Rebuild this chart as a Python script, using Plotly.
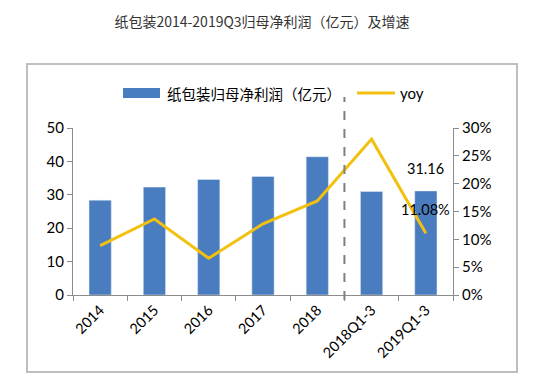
import plotly.graph_objects as go

categories = ["2014", "2015", "2016", "2017", "2018", "2018Q1-3", "2019Q1-3"]
profit = [28.4, 32.3, 34.6, 35.5, 41.4, 31.0, 31.16]
yoy = [0.0886, 0.1365, 0.066, 0.128, 0.169, 0.280, 0.1108]
y_ticks = [0, 10, 20, 30, 40, 50]
y2_ticks = [0, 0.05, 0.10, 0.15, 0.20, 0.25, 0.30]
y2_labels = ["0%", "5%", "10%", "15%", "20%", "25%", "30%"]

title_text = "纸包装2014-2019Q3归母净利润（亿元）及增速"
bar_name = "纸包装归母净利润（亿元）"
line_name = "yoy"

CJK = "Noto Sans CJK SC, sans-serif"
NUM = "Lato, Noto Sans CJK SC, sans-serif"
BLUE = "#4a7dbf"
YELLOW = "#f2c10f"
AXIS = "#8c8c8c"

fig = go.Figure()
fig.add_trace(go.Bar(x=categories, y=profit, name=bar_name, marker_color=BLUE,
                     width=0.41, yaxis="y"))
fig.add_trace(go.Scatter(x=categories, y=yoy, name=line_name, mode="lines",
                         line=dict(color=YELLOW, width=3), yaxis="y2"))

OFF = 8  # page body margin
W, H = 547, 391
# target plot area in screenshot pixels: x 73..453, y 128..295
L = 73 - OFF
T = 128 - OFF
R = W - (453 - OFF)
B = H - (295 - OFF)
pw = W - L - R
ph = H - T - B

def px_x(p):
    return (p - OFF - L) / pw

def px_y(p):
    return (H - B - (p - OFF)) / ph

shapes = []
shapes.append(dict(type="rect", xref="paper", yref="paper",
                   x0=px_x(27), x1=px_x(517), y0=px_y(372), y1=px_y(64),
                   line=dict(color="#bfbfbf", width=2), fillcolor="rgba(0,0,0,0)",
                   layer="below"))
shapes.append(dict(type="line", xref="x", yref="paper", x0=4.5, x1=4.5,
                   y0=px_y(300), y1=px_y(97),
                   line=dict(color="#7f7f7f", width=2, dash="dash")))
shapes.append(dict(type="rect", xref="paper", yref="paper",
                   x0=px_x(123), x1=px_x(160), y0=px_y(98), y1=px_y(88),
                   fillcolor=BLUE, line=dict(width=0)))
shapes.append(dict(type="line", xref="paper", yref="paper",
                   x0=px_x(357), x1=px_x(395), y0=px_y(93), y1=px_y(93),
                   line=dict(color=YELLOW, width=3)))

annotations = [
    dict(text=bar_name, xref="paper", yref="paper", x=px_x(165), y=px_y(93),
         xanchor="left", yanchor="middle", showarrow=False,
         font=dict(family=CJK, size=14.5, color="#000000")),
    dict(text=line_name, xref="paper", yref="paper", x=px_x(398), y=px_y(93),
         xanchor="left", yanchor="middle", showarrow=False,
         font=dict(family=NUM, size=15, color="#000000")),
    dict(text=f"{profit[-1]:.2f}", xref="x", yref="y", x=categories[-1], y=profit[-1],
         yshift=12, xanchor="center", yanchor="bottom", showarrow=False,
         font=dict(family=NUM, size=14.5, color="#000000")),
    dict(text=f"{yoy[-1]*100:.2f}%", xref="x", yref="y2", x=categories[-1], y=yoy[-1],
         yshift=24, xanchor="center", yanchor="middle", showarrow=False,
         font=dict(family=NUM, size=14.5, color="#000000")),
]

fig.update_layout(
    width=W, height=H,
    margin=dict(l=L, r=R, t=T, b=B, autoexpand=False),
    paper_bgcolor="white", plot_bgcolor="white",
    showlegend=False,
    title=dict(text=title_text, x=px_x(262), xanchor="center", xref="paper",
               y=1 - (22 - OFF) / H, yanchor="middle",
               font=dict(family=CJK, size=14, color="#333333")),
    font=dict(family=NUM, size=14, color="#000000"),
    xaxis=dict(type="category", tickangle=-45, showline=True, linecolor=AXIS, linewidth=1,
               ticks="outside", ticklen=5, tickcolor=AXIS, tickson="boundaries",
               showgrid=False, zeroline=False, automargin=False,
               tickfont=dict(family=NUM, size=14.5, color="#000000")),
    yaxis=dict(range=[0, 50], tickvals=y_ticks, showline=True, linecolor=AXIS, linewidth=1,
               ticks="outside", ticklen=5, tickcolor=AXIS, showgrid=False, zeroline=False,
               automargin=False,
               tickfont=dict(family=NUM, size=15, color="#000000")),
    yaxis2=dict(range=[0, 0.30], tickvals=y2_ticks, ticktext=y2_labels, overlaying="y",
                side="right", showline=True, linecolor=AXIS, linewidth=1,
                ticks="outside", ticklen=5, tickcolor=AXIS, showgrid=False, zeroline=False,
                automargin=False,
                tickfont=dict(family=NUM, size=15, color="#000000")),
    shapes=shapes,
    annotations=annotations,
)

fig.write_html("out.html")
